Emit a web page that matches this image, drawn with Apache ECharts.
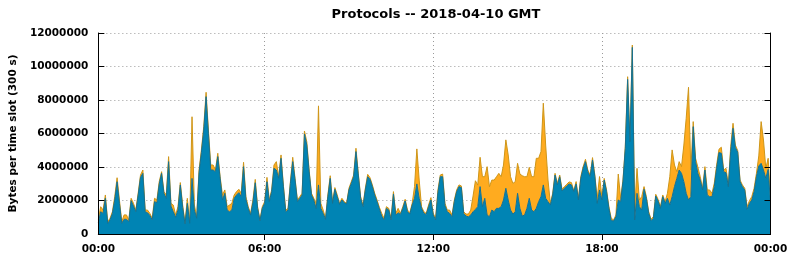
<!DOCTYPE html>
<html>
<head>
<meta charset="utf-8">
<script src="https://cdn.jsdelivr.net/npm/echarts@6/dist/echarts.min.js"></script>
<style>
html,body{margin:0;padding:0;background:#fff;}
#chart{width:792px;height:259px;}
</style>
</head>
<body>
<div id="chart"></div>
<script>
// Values in millions of bytes per 5-minute slot (slot ends at 00:05 ... 24:00)
const UNIT = 1e6;
const SLOT_MINUTES = 5;
const SLOT_COUNT = 288;
const title = 'Protocols -- 2018-04-10 GMT';
const yName = 'Bytes per time slot (300 s)';
const gridHours = ['06:00', '12:00', '18:00'];
const labelHours = ['00:05', '06:00', '12:00', '18:00', '24:00'];

// bottom layer (blue)
const blue = [
0.68,1.33,1.23,2.13,0.64,0.84,1.23,2.03,3.12,1.83,
0.64,0.88,0.88,0.74,1.99,1.67,1.33,2.33,3.38,3.62,
1.33,1.27,1.11,0.84,1.93,1.87,2.99,3.62,2.43,2.13,
4.32,1.67,1.33,1.00,1.43,2.93,1.59,0.60,1.83,0.64,
3.32,1.43,0.94,3.66,4.86,6.21,8.20,6.01,3.82,3.82,
3.72,4.62,3.32,2.03,2.43,1.43,1.33,1.43,2.13,2.33,
2.47,2.23,4.02,2.07,1.53,1.13,1.87,3.06,1.53,0.78,
1.53,1.83,3.12,1.93,2.53,3.92,3.82,3.32,4.52,2.83,
1.33,1.43,3.02,4.32,3.22,1.93,2.13,2.33,5.97,5.31,
3.72,2.33,2.03,1.53,2.93,1.53,1.23,0.88,2.23,3.32,
1.83,2.67,2.23,1.77,2.03,1.87,1.79,2.63,3.02,3.42,
4.92,3.52,2.13,1.63,2.63,3.42,3.26,2.83,2.33,1.93,
1.49,1.07,0.84,1.53,1.43,0.84,2.39,1.13,1.27,1.17,
1.53,1.97,1.33,1.19,1.73,2.13,2.99,2.13,1.53,1.23,
1.17,1.63,2.03,1.13,0.84,2.47,3.42,3.42,1.69,1.33,
1.23,1.03,1.93,2.53,2.83,2.77,1.23,1.07,1.03,1.13,
1.33,1.47,1.63,2.83,1.63,2.13,1.13,1.03,1.43,1.33,
1.53,1.53,1.63,2.03,2.73,2.03,1.43,1.19,1.33,2.43,
1.53,1.07,1.13,1.53,2.13,1.43,1.33,1.53,1.93,2.23,
2.93,2.13,1.93,1.73,2.33,3.52,2.93,3.42,2.57,2.73,
2.87,2.99,2.93,2.53,2.99,2.03,3.32,3.92,4.32,3.72,
3.42,4.42,3.42,1.83,2.63,2.03,3.22,2.53,1.53,0.80,
0.78,1.03,2.03,1.93,3.12,5.11,9.23,5.51,11.14,0.84,
2.43,1.63,1.43,2.67,2.13,1.23,0.80,0.94,2.27,1.97,
1.53,2.23,1.83,2.13,1.73,2.23,2.83,3.32,3.82,3.62,
3.12,2.43,2.03,2.23,6.41,4.32,3.62,3.22,2.63,3.82,
2.33,2.23,2.23,2.83,3.92,4.86,4.82,3.72,3.66,2.83,
4.92,6.31,5.17,4.88,3.12,2.83,2.63,1.47,1.83,2.03,
2.53,3.42,4.06,4.22,3.82,3.32,3.86,1.83
];

// top layer (orange), stacked on blue
const other = [
0.20,0.30,0.20,0.20,0.10,0.10,0.10,0.20,0.24,0.20,
0.10,0.26,0.26,0.10,0.14,0.16,0.10,0.10,0.14,0.20,
0.10,0.16,0.12,0.10,0.20,0.16,0.14,0.10,0.10,0.20,
0.30,0.16,0.40,0.14,0.20,0.14,0.14,0.08,0.30,0.04,
3.68,0.30,0.10,0.16,0.16,0.20,0.26,0.20,0.30,0.30,
0.10,0.20,0.10,0.30,0.20,0.20,0.40,0.40,0.20,0.20,
0.20,0.20,0.26,0.16,0.10,0.10,0.16,0.20,0.10,0.06,
0.10,0.10,0.26,0.10,0.10,0.20,0.50,0.10,0.20,0.10,
0.10,0.10,0.10,0.26,0.10,0.10,0.10,0.10,0.18,0.20,
0.10,0.10,0.10,0.30,4.72,0.30,0.20,0.06,0.10,0.16,
0.10,0.10,0.10,0.06,0.10,0.06,0.04,0.10,0.10,0.10,
0.20,0.10,0.10,0.10,0.10,0.14,0.10,0.10,0.10,0.10,
0.10,0.16,0.10,0.10,0.10,0.10,0.14,0.10,0.26,0.06,
0.10,0.10,0.10,0.08,0.10,0.70,2.09,1.09,0.10,0.10,
0.06,0.10,0.14,0.10,0.10,0.16,0.10,0.16,0.14,0.10,
0.20,0.10,0.10,0.10,0.10,0.10,0.10,0.12,0.16,0.30,
0.94,1.71,1.29,1.75,1.79,1.29,2.89,1.79,1.79,1.89,
1.89,2.09,1.79,2.09,2.89,2.69,1.99,1.83,1.79,1.79,
2.05,2.41,2.29,1.89,1.85,1.99,2.09,2.99,2.59,2.69,
4.88,3.18,1.29,0.10,0.10,0.10,0.10,0.10,0.10,0.10,
0.10,0.12,0.14,0.06,0.14,0.10,0.10,0.10,0.14,0.10,
0.10,0.14,0.10,0.30,0.80,0.20,0.10,0.10,0.10,0.14,
0.06,0.10,1.55,0.20,0.10,0.10,0.16,0.10,0.14,0.60,
1.49,0.40,0.80,0.16,0.10,0.10,0.08,0.10,0.10,0.10,
0.10,0.10,0.10,0.30,1.69,2.79,1.29,0.40,0.50,0.40,
2.19,4.48,6.73,1.59,0.30,0.20,0.36,0.20,0.10,0.20,
0.30,0.40,0.20,0.20,0.20,0.20,0.36,0.10,0.26,0.10,
0.30,0.30,0.14,0.10,0.10,0.10,0.10,0.16,0.16,0.20,
0.20,0.20,0.60,2.49,1.79,0.60,0.66,0.30
];

const pad = n => (n < 10 ? '0' : '') + n;
// slot end times "00:05" ... "24:00"
const slotTimes = [];
for (let i = 1; i <= SLOT_COUNT; i++) {
  const m = i * SLOT_MINUTES;
  slotTimes.push(pad(Math.floor(m / 60)) + ':' + pad(m % 60));
}
const hourLabel = v => pad(parseInt(v.slice(0, 2), 10) % 24) + ':00';
const isGrid = (idx, v) => gridHours.indexOf(v) >= 0;
const isLabel = (idx, v) => labelHours.indexOf(v) >= 0;

const FONT = 'DejaVu Sans';
const yMin = 0, yMax = 12000000, yStep = 2000000;
const toBytes = arr => arr.map(v => Math.round(v * UNIT));

const chart = echarts.init(document.getElementById('chart'), null, {renderer: 'canvas'});
chart.setOption({
  animation: false,
  backgroundColor: '#ffffff',
  title: {
    text: title,
    left: 431, textAlign: 'center', top: 3,
    textStyle: {fontFamily: FONT, fontWeight: 'bold', fontSize: 13, color: '#000'}
  },
  grid: {left: 93, right: 21.5, top: 33, bottom: 25},
  xAxis: [
    { // main bottom axis: labels + line, drawn above the areas
      type: 'category', data: slotTimes, boundaryGap: false, position: 'bottom', z: 10,
      axisLine: {show: true, lineStyle: {color: '#000', width: 1}},
      axisTick: {show: false},
      splitLine: {show: false},
      axisLabel: {
        interval: isLabel, formatter: hourLabel, margin: 10, showMinLabel: true, showMaxLabel: true,
        fontFamily: FONT, fontWeight: 'bold', fontSize: 10.5, color: '#000'
      }
    },
    { // top frame edge with inward ticks
      type: 'category', data: slotTimes, boundaryGap: false, position: 'top', z: 10,
      axisLine: {show: true, lineStyle: {color: '#000', width: 1}},
      axisTick: {show: true, inside: true, length: 6, interval: isGrid, lineStyle: {color: '#000'}},
      axisLabel: {show: false}, splitLine: {show: false}
    },
    { // vertical dotted grid lines behind the areas
      type: 'category', data: slotTimes, boundaryGap: false, position: 'bottom', z: 0,
      axisLine: {show: false}, axisTick: {show: false}, axisLabel: {show: false},
      splitLine: {show: true, interval: isGrid, lineStyle: {color: '#9a9a9a', width: 1, type: [1, 3]}}
    }
  ],
  yAxis: [
    {
      type: 'value', min: yMin, max: yMax, interval: yStep, position: 'left', z: 10,
      name: yName, nameLocation: 'middle', nameGap: 74,
      nameTextStyle: {fontFamily: FONT, fontWeight: 'bold', fontSize: 10.5, color: '#000'},
      axisLine: {show: true, lineStyle: {color: '#000', width: 1}},
      axisTick: {show: true, inside: true, length: 6, lineStyle: {color: '#000'}},
      splitLine: {show: false},
      axisLabel: {
        formatter: v => String(v), margin: 10,
        fontFamily: FONT, fontWeight: 'bold', fontSize: 10.5, color: '#000'
      }
    },
    {
      type: 'value', min: yMin, max: yMax, interval: yStep, position: 'right', z: 10,
      axisLine: {show: true, lineStyle: {color: '#000', width: 1}},
      axisTick: {show: true, inside: true, length: 6, lineStyle: {color: '#000'}},
      axisLabel: {show: false}, splitLine: {show: false}
    },
    {
      type: 'value', min: yMin, max: yMax, interval: yStep, position: 'left', z: 0,
      axisLine: {show: false}, axisTick: {show: false}, axisLabel: {show: false},
      splitLine: {show: true, lineStyle: {color: '#9a9a9a', width: 1, type: [1, 3]}}
    }
  ],
  series: [
    {
      name: 'blue', type: 'line', stack: 'total', xAxisIndex: 0, yAxisIndex: 0,
      data: toBytes(blue), symbol: 'none', z: 3,
      lineStyle: {color: '#17708f', width: 1},
      areaStyle: {color: '#0084b4', opacity: 1}
    },
    {
      name: 'other', type: 'line', stack: 'total', xAxisIndex: 0, yAxisIndex: 0,
      data: toBytes(other), symbol: 'none', z: 2,
      lineStyle: {color: '#cf9618', width: 1},
      areaStyle: {color: '#ffab1f', opacity: 1}
    }
  ]
});
</script>
</body>
</html>
